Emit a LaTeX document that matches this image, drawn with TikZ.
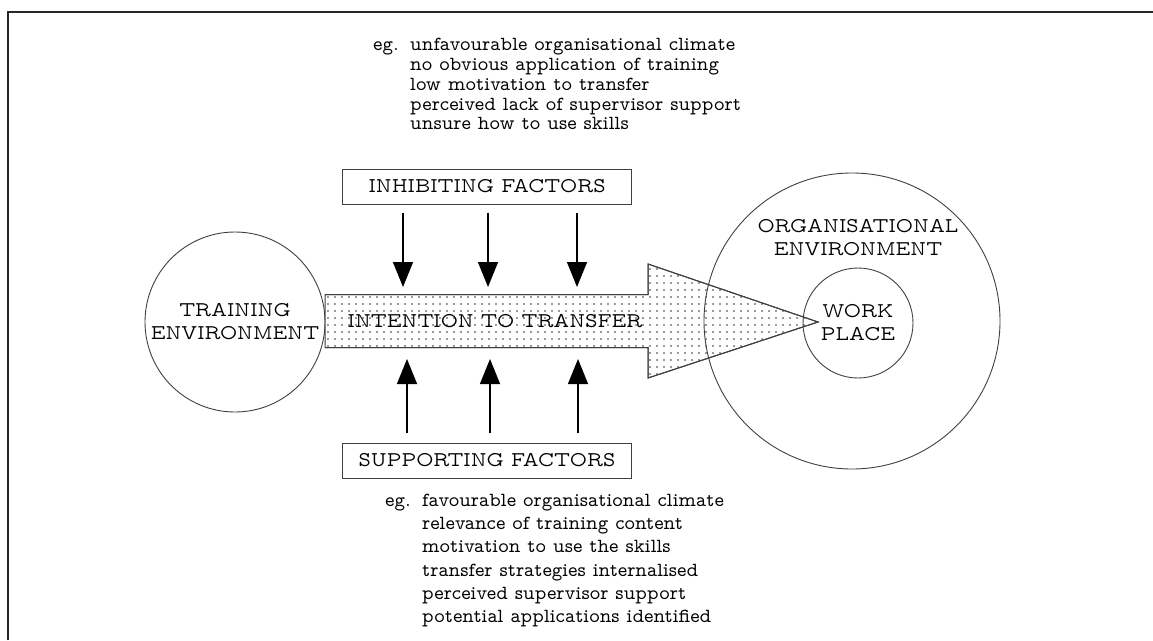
\documentclass[tikz,border=0pt]{standalone}
\usepackage{fontspec}
\usetikzlibrary{arrows.meta}
% proportional typewriter face for all labels
\newcommand\capsface{\fontfamily{lmvtt}\fontsize{21}{23}\selectfont}
\newcommand\noteface{\fontfamily{lmvtt}\fontsize{20}{19.7}\selectfont}
\newcommand\notefacewide{\fontfamily{lmvtt}\fontsize{20}{23.2}\selectfont}
\begin{document}
\begin{tikzpicture}[x=1pt,y=-1pt,
  frameline/.style={line width=2pt, draw=black!85},
  ring/.style={circle, draw=black!75, line width=0.9pt, inner sep=0pt, align=center, font=\capsface},
  factorbox/.style={draw=black!75, line width=1pt, minimum width=289pt, minimum height=35pt, inner sep=0pt, font=\capsface},
  capslabel/.style={inner sep=0pt, align=center, font=\capsface},
  shaft/.style={draw=black!75, line width=1pt, fill=white},
  push/.style={line width=1.3pt, draw=black, -{Triangle[width=20pt,length=25pt]}},
  notes/.style={inner sep=0pt, anchor=north west}
]
\useasboundingbox (0,0) rectangle (1153,640);

% outer frame (runs off the right and bottom edges)
\draw[frameline] (8,640) -- (8,12) -- (1153,12);

% training circle
\node[ring, minimum size=180pt] (train) at (235,322) {TRAINING\\ENVIRONMENT};

% broad stippled arrow: intention to transfer
\coordinate (bandtop) at (325,294.5);
\coordinate (bandbot) at (325,347.5);
\coordinate (headtop) at (648,264);
\coordinate (headbot) at (648,378);
\coordinate (tip) at (818,322);
\path[shaft] (bandtop) -- (headtop |- bandtop) -- (headtop) -- (tip) -- (headbot) -- (headbot |- bandbot) -- (bandbot) -- cycle;
\begin{scope}
  \clip (bandtop) -- (headtop |- bandtop) -- (headtop) -- (tip) -- (headbot) -- (headbot |- bandbot) -- (bandbot) -- cycle;
  \foreach \i in {0,...,72}
    \foreach \j in {0,...,17}
      \fill[black!80] (328+\i*7, 262+\j*7) circle (0.85pt);
\end{scope}
\draw[shaft, fill=none] (bandtop) -- (headtop |- bandtop) -- (headtop) -- (tip) -- (headbot) -- (headbot |- bandbot) -- (bandbot);
\node[capslabel] (intent) at (495,321) {INTENTION TO TRANSFER};

% organisational environment and work place
\node[ring, minimum size=296pt] (org) at (852,321) {};
\node[ring, minimum size=110pt] (work) at (858,323) {WORK\\PLACE};
\node[capslabel] (orglabel) at (858,238) {ORGANISATIONAL\\ENVIRONMENT};

% factor boxes
\node[factorbox] (inhib) at (487,186.5) {INHIBITING FACTORS};
\node[factorbox] (supp) at (487,460.5) {SUPPORTING FACTORS};

% arrow targets on the band
\coordinate (in1) at (403,287);
\coordinate (in2) at (488,287);
\coordinate (in3) at (577,287);
\coordinate (up1) at (407,359);
\coordinate (up2) at (490,359);
\coordinate (up3) at (578,359);

\foreach \c in {in1,in2,in3}
  \draw[push] (inhib.south -| \c) ++(0,8) -- (\c);
\foreach \c in {up1,up2,up3}
  \draw[push] (supp.north -| \c) ++(0,-10) -- (\c);

% example lists
\node[notes, font=\noteface] (inhibnote) at (373,37) {%
  \begin{tabular}{@{}p{37pt}@{}l@{}}
  eg. & unfavourable organisational climate\\
      & no obvious application of training\\
      & low motivation to transfer\\
      & perceived lack of supervisor support\\
      & unsure how to use skills
  \end{tabular}};
\node[notes, font=\notefacewide] (suppnote) at (385,490) {%
  \begin{tabular}{@{}p{37pt}@{}l@{}}
  eg. & favourable organisational climate\\
      & relevance of training content\\
      & motivation to use the skills\\
      & transfer strategies internalised\\
      & perceived supervisor support\\
      & potential applications identified
  \end{tabular}};
\end{tikzpicture}
\end{document}
